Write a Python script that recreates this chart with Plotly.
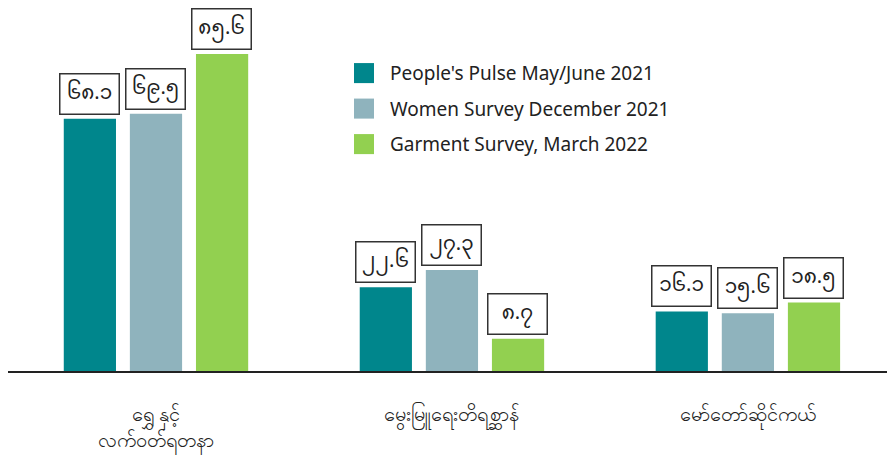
import plotly.graph_objects as go

# data
categories = ["ရွှေ နှင့်<br>လက်ဝတ်ရတနာ", "မွေးမြူရေးတိရစ္ဆာန်", "မော်တော်ဆိုင်ကယ်"]
series_names = ["People's Pulse May/June 2021", "Women Survey December 2021", "Garment Survey, March 2022"]
pulse_2021 = [68.1, 22.6, 16.1]
women_2021 = [69.5, 27.3, 15.6]
garment_2022 = [85.6, 8.7, 18.5]
colors = ["#00868C", "#8FB3BD", "#92D050"]

MM_DIGITS = str.maketrans("0123456789", "၀၁၂၃၄၅၆၇၈၉")

def mm(v):
    return f"{v:.1f}".translate(MM_DIGITS)

fig = go.Figure()
for name, vals, col in zip(series_names, [pulse_2021, women_2021, garment_2022], colors):
    fig.add_trace(go.Bar(x=categories, y=vals, name=name, marker_color=col,
                         marker_line_width=0, showlegend=False,
                         offsetgroup=name))

# boxed value labels above each bar
for i, vals in enumerate([pulse_2021, women_2021, garment_2022]):
    for j, v in enumerate(vals):
        fig.add_annotation(x=j, y=v, xref="x", yref="y", text=mm(v),
                           showarrow=False, yanchor="bottom", yshift=4,
                           xshift=(i - 1) * 66, height=33, width=52,
                           font=dict(size=20, color="#222222", family="Noto Sans Myanmar, Noto Sans"),
                           bordercolor="#333333", borderwidth=1.5, borderpad=3,
                           bgcolor="white")

# legend drawn by hand (squares + text)
for k, (name, col) in enumerate(zip(series_names, colors)):
    y0 = 0.803 - k * 0.0957
    fig.add_shape(type="rect", xref="paper", yref="paper",
                  x0=0.3936, x1=0.4164, y0=y0 - 0.027, y1=y0 + 0.027,
                  fillcolor=col, line_width=0)
    fig.add_annotation(xref="paper", yref="paper", x=0.432, y=y0, text=name,
                       showarrow=False, xanchor="left", yanchor="middle",
                       font=dict(size=19, color="#222222", family="Noto Sans"))

fig.update_layout(
    width=887, height=455,
    margin=dict(l=8, r=0, t=0, b=84),
    plot_bgcolor="white", paper_bgcolor="white",
    barmode="group", bargap=0.33, bargroupgap=0.21,
    font=dict(family="Noto Sans", size=19, color="#222222"),
    xaxis=dict(showline=True, linecolor="#222222", linewidth=2, ticks="",
               showgrid=False, tickfont=dict(size=20), ticklabelstandoff=24,
               range=[-0.5, 2.47]),
    yaxis=dict(visible=False, range=[0, 100.2]),
)

# page body has a default 8px margin, drop it
fig.write_html("out.html", post_script="document.body.style.margin='0';",
               config={"displayModeBar": False})
